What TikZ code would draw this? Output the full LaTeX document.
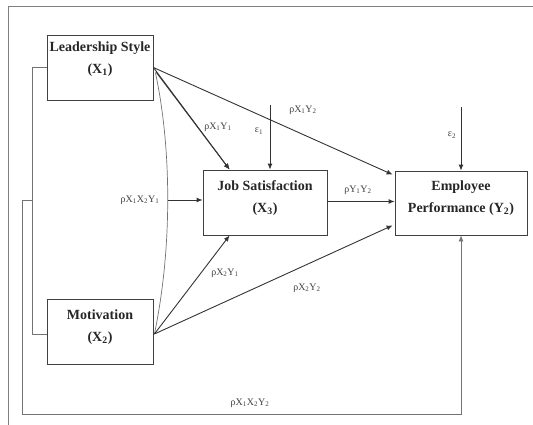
\documentclass[tikz,border=0pt]{standalone}
\usepackage{fontspec}
\setmainfont{Liberation Serif}
\usetikzlibrary{calc,arrows.meta}
\begin{document}
\begin{tikzpicture}[x=1pt,y=-1pt,
  boxnode/.style={draw=black!75,line width=0.8pt,rectangle,inner sep=0pt},
  boxtext/.style={font=\fontsize{14}{22.5}\selectfont\bfseries,align=center,text=black!85,inner sep=0pt},
  lbl/.style={font=\fontsize{10}{12}\selectfont,text=black!75,inner sep=0pt},
  arr/.style={draw=black!80,line width=0.9pt,-{Latex[length=6pt,width=5pt]}},
  thin/.style={draw=black!55,line width=0.7pt},
  framel/.style={draw=black!50,line width=1pt}]
\useasboundingbox (0,0) rectangle (533,425);
% frame
\coordinate (f1) at (533,7);
\coordinate (f2) at (8,7);
\coordinate (f3) at (8,425);
\draw[framel] (f1) -- (f2) -- (f3);
% boxes
\node[boxnode,minimum width=106pt,minimum height=65pt] (L) at (100,67.5) {};
\node[boxnode,minimum width=106pt,minimum height=65pt] (M) at (100,331.5) {};
\node[boxnode,minimum width=124pt,minimum height=65pt] (J) at (265,202.5) {};
\node[boxnode,minimum width=132pt,minimum height=64pt] (E) at (461,203) {};
\node[boxtext] (Lt) at (100,59) {Leadership Style\\(X\textsubscript{1})};
\node[boxtext] (Mt) at (100,327) {Motivation\\(X\textsubscript{2})};
\node[boxtext] (Jt) at (265,198) {Job Satisfaction\\(X\textsubscript{3})};
\node[boxtext] (Et) at (461,198) {Employee\\Performance (Y\textsubscript{2})};
% left bracket
\coordinate (b) at (33,200);
\draw[thin] (L.west) -- ++(-14,0) |- ($(M.west)+(0,2.5)$);
\draw[thin,-{Latex[length=6pt,width=5pt]}] (b) -- ++(-11,0) -- ++(0,214) -| (E.south);
% curve joining X1 and X2
\coordinate (c) at (168,200);
\draw[thin] ($(L.east)+(2,5)$) .. controls (172,150) and (172,250) .. ($(M.east)+(1,2.5)$);
\draw[arr] (c) -- (c -| J.west);
% arrows from Leadership
\draw[arr] (L.east) -- ($(J.north west)+(27,0)$);
\draw[arr] ($(L.east)+(3,5)$) -- ($(J.north west)+(27,0)$);
\draw[arr] (L.east) -- ($(E.north west)+(-2,4)$);
% arrows from Motivation
\draw[arr] ($(M.east)+(1,2.5)$) -- ($(J.south west)+(27,0)$);
\draw[arr] ($(M.east)+(1,2.5)$) -- ($(E.south west)+(-2,-10)$);
% J to E
\draw[arr] ($(J.east)+(0,-1)$) -- ($(J.east -| E.west)+(0,-1)$);
% error terms
\coordinate (e1) at (270,105);
\coordinate (e2) at (461,107);
\draw[arr] (e1) -- (e1 |- J.north);
\draw[arr] (e2) -- (E.north);
% labels
\node[lbl] (l1) at (218,127) {ρX\textsubscript{1}Y\textsubscript{1}};
\node[lbl] (l2) at (259,131) {ε\textsubscript{1}};
\node[lbl] (l3) at (303,110) {ρX\textsubscript{1}Y\textsubscript{2}};
\node[lbl] (l4) at (452,135) {ε\textsubscript{2}};
\node[lbl] (l5) at (358,190) {ρY\textsubscript{1}Y\textsubscript{2}};
\node[lbl] (l6) at (140,200) {ρX\textsubscript{1}X\textsubscript{2}Y\textsubscript{1}};
\node[lbl] (l7) at (225,273) {ρX\textsubscript{2}Y\textsubscript{1}};
\node[lbl] (l8) at (307,288) {ρX\textsubscript{2}Y\textsubscript{2}};
\node[lbl] (l9) at (250,403) {ρX\textsubscript{1}X\textsubscript{2}Y\textsubscript{2}};
\end{tikzpicture}
\end{document}
